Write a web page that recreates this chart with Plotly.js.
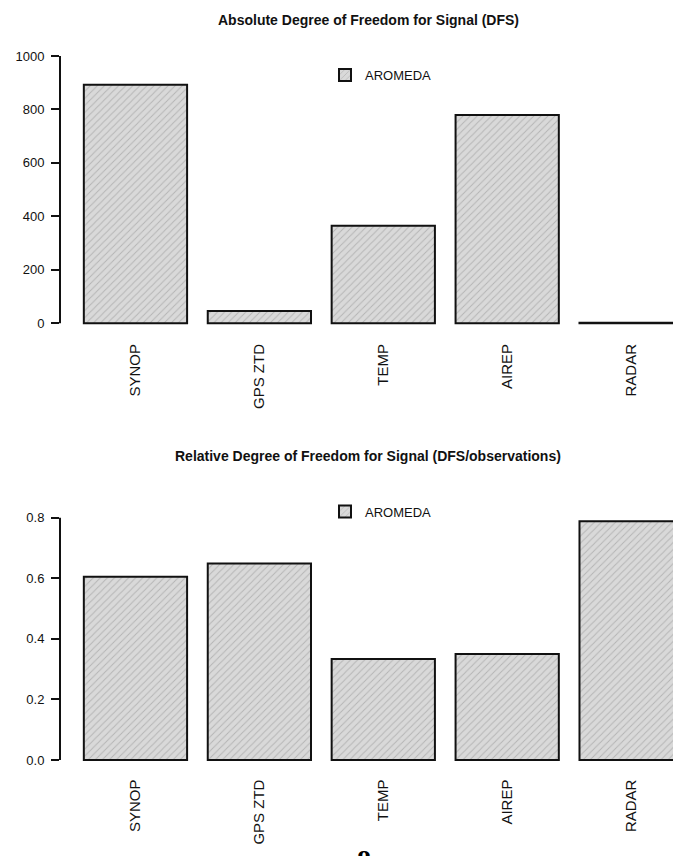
<!DOCTYPE html>
<html>
<head>
<meta charset="utf-8">
<script src="https://cdn.plot.ly/plotly-3.0.1.min.js"></script>
<style>html,body{margin:0;padding:0;background:#fff;}#chart{width:673px;height:856px;}</style>
</head>
<body>
<div id="chart"></div>
<script>
// ---- data ----
const categories = ['SYNOP', 'GPS ZTD', 'TEMP', 'AIREP', 'RADAR'];
const seriesName = 'AROMEDA';
const dfsAbsolute = [892, 46, 365, 779, 2];
const dfsRelative = [0.605, 0.649, 0.334, 0.350, 0.788];
const absTicks = [0, 200, 400, 600, 800, 1000];
const absTickText = ['0', '200', '400', '600', '800', '1000'];
const relTicks = [0, 0.2, 0.4, 0.6, 0.8];
const relTickText = ['0.0', '0.2', '0.4', '0.6', '0.8'];
const titleAbs = 'Absolute Degree of Freedom for Signal (DFS)';
const titleRel = 'Relative Degree of Freedom for Signal (DFS/observations)';
const pageNumber = '8';

// ---- style ----
const FONT = 'Liberation Sans, Arial, Helvetica, sans-serif';
const W = 673, H = 856, ML = 60;
const py = p => 1 - p / H;            // pixel row -> paper y
const px = p => (p - ML) / (W - ML);  // pixel col -> paper x

const barStyle = {
  color: '#d9d9d9',
  line: {color: '#111111', width: 2},
  pattern: {shape: '/', fgcolor: '#b4b4b4', bgcolor: '#d9d9d9', size: 5, solidity: 0.18, fillmode: 'replace'}
};

const traces = [
  {type: 'bar', x: categories, y: dfsAbsolute, name: seriesName, width: 1 / 1.2,
   marker: barStyle, xaxis: 'x', yaxis: 'y', legend: 'legend', showlegend: true},
  {type: 'bar', x: categories, y: dfsRelative, name: seriesName, width: 1 / 1.2,
   marker: barStyle, xaxis: 'x2', yaxis: 'y2', legend: 'legend2', showlegend: true}
];

const xCommon = {
  type: 'category', categoryorder: 'array', categoryarray: categories,
  range: [-0.609, 4.338], showline: false, showgrid: false, zeroline: false,
  ticks: '', tickangle: -90, ticklabelstandoff: 6,
  tickfont: {family: FONT, size: 15, color: '#111'}, fixedrange: true
};
const yCommon = {
  showline: false, showgrid: false, zeroline: false,
  ticks: 'outside', ticklen: 8, tickwidth: 2, tickcolor: '#111',
  ticklabelstandoff: 4,
  tickfont: {family: FONT, size: 13, color: '#111'}, fixedrange: true
};

const legendCommon = {
  xanchor: 'left', yanchor: 'middle', bgcolor: 'rgba(0,0,0,0)', borderwidth: 0,
  font: {family: FONT, size: 13, color: '#111'}, itemwidth: 30, itemclick: false, itemdoubleclick: false
};

const layout = {
  width: W, height: H,
  margin: {l: ML, r: 0, t: 0, b: 0},
  paper_bgcolor: '#fff', plot_bgcolor: '#fff',
  font: {family: FONT, color: '#111'},
  bargap: 0,
  xaxis: Object.assign({}, xCommon, {anchor: 'y', domain: [0, 1]}),
  yaxis: Object.assign({}, yCommon, {anchor: 'x', domain: [py(334.0), py(45.3)],
    range: [-40, 1040], tickvals: absTicks, ticktext: absTickText}),
  xaxis2: Object.assign({}, xCommon, {anchor: 'y2', domain: [0, 1]}),
  yaxis2: Object.assign({}, yCommon, {anchor: 'x2', domain: [py(769.6), py(512.1)],
    range: [-0.0315, 0.8185], tickvals: relTicks, ticktext: relTickText}),
  legend: Object.assign({}, legendCommon, {x: px(325), y: py(75)}),
  legend2: Object.assign({}, legendCommon, {x: px(325), y: py(511.5)}),
  shapes: [
    {type: 'line', xref: 'paper', yref: 'y', x0: 0, x1: 0,
     y0: absTicks[0], y1: absTicks[absTicks.length - 1], line: {color: '#111', width: 2}},
    {type: 'line', xref: 'paper', yref: 'y2', x0: 0, x1: 0,
     y0: relTicks[0], y1: relTicks[relTicks.length - 1], line: {color: '#111', width: 2}}
  ],
  annotations: [
    {text: '<b>' + titleAbs + '</b>', xref: 'paper', yref: 'paper', x: px(368), y: py(20),
     xanchor: 'center', yanchor: 'middle', showarrow: false, font: {family: FONT, size: 14, color: '#111'}},
    {text: '<b>' + titleRel + '</b>', xref: 'paper', yref: 'paper', x: px(368), y: py(456),
     xanchor: 'center', yanchor: 'middle', showarrow: false, font: {family: FONT, size: 14, color: '#111'}},
    {text: '<b>' + pageNumber + '</b>', xref: 'paper', yref: 'paper', x: px(363.5), y: py(842),
     xanchor: 'center', yanchor: 'top', showarrow: false,
     font: {family: 'Liberation Serif, Times New Roman, serif', size: 28, color: '#000'}}
  ]
};

Plotly.newPlot('chart', traces, layout, {staticPlot: true, displayModeBar: false});
</script>
</body>
</html>
